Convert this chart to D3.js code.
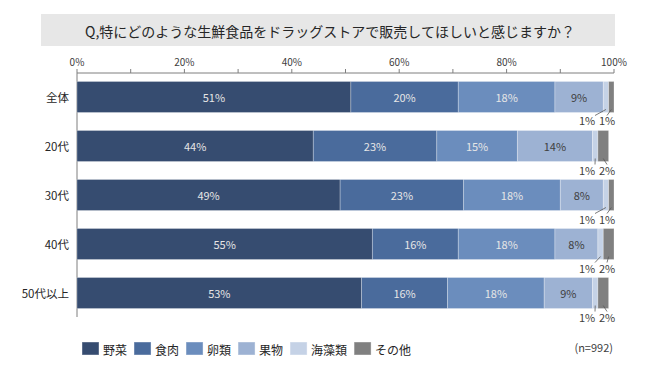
<!DOCTYPE html>
<html>
<head>
<meta charset="utf-8">
<script src="https://cdn.jsdelivr.net/npm/d3@7"></script>
<style>
  body { margin: 0; background: #fff; }
  text { font-family: "Noto Sans CJK JP", "Noto Sans", sans-serif; }
</style>
</head>
<body>
<div id="chart"></div>
<script>
const categories = ["全体", "20代", "30代", "40代", "50代以上"];
const seriesNames = ["野菜", "食肉", "卵類", "果物", "海藻類", "その他"];
const 野菜 = [51, 44, 49, 55, 53];
const 食肉 = [20, 23, 23, 16, 16];
const 卵類 = [18, 15, 18, 18, 18];
const 果物 = [9, 14, 8, 8, 9];
const 海藻類 = [1, 1, 1, 1, 1];
const その他 = [1, 2, 1, 2, 2];
const tickValues = [0, 20, 40, 60, 80, 100];
const titleText = "Q,特にどのような生鮮食品をドラッグストアで販売してほしいと感じますか？";
const noteText = "(n=992)";

const seriesValues = [野菜, 食肉, 卵類, 果物, 海藻類, その他];
const colors = ["#364c70", "#4a6b9c", "#6b8dbd", "#9db2d3", "#c5d2e6", "#808080"];
const labelColors = ["#e6e6e6", "#e6e6e6", "#e6e6e6", "#404040", "#404040", "#404040"];

const rows = categories.map((c, i) => {
  const r = { category: c };
  seriesNames.forEach((s, j) => r[s] = seriesValues[j][i]);
  return r;
});

const width = 650, height = 380;
const svg = d3.select("#chart").append("svg")
  .attr("width", width)
  .attr("height", height);

// title box
svg.append("rect")
  .attr("x", 41).attr("y", 14)
  .attr("width", 574).attr("height", 32)
  .attr("fill", "#e7e7e7");

svg.append("text")
  .attr("x", 330).attr("y", 31)
  .attr("text-anchor", "middle")
  .attr("dominant-baseline", "central")
  .style("font-size", "14px")
  .style("fill", "#262626")
  .text(titleText);

const x = d3.scaleLinear().domain([0, 100]).range([77, 614]);
const y = d3.scaleBand().domain(categories).range([73, 317])
  .paddingInner(0.367).paddingOuter(0.173);

// top axis
const axisY = 73;
svg.append("line")
  .attr("x1", x(0)).attr("x2", x(100))
  .attr("y1", axisY).attr("y2", axisY)
  .attr("stroke", "#7f7f7f");
svg.append("line")
  .attr("x1", x(0)).attr("x2", x(0))
  .attr("y1", axisY - 4).attr("y2", 317)
  .attr("stroke", "#7f7f7f");
svg.append("g").selectAll("line")
  .data(d3.range(10, 101, 10))
  .join("line")
  .attr("x1", d => x(d)).attr("x2", d => x(d))
  .attr("y1", axisY - 4).attr("y2", axisY)
  .attr("stroke", "#7f7f7f");
svg.append("g").selectAll("text")
  .data(tickValues)
  .join("text")
  .attr("x", d => x(d))
  .attr("y", 61)
  .attr("text-anchor", "middle")
  .attr("dominant-baseline", "central")
  .style("font-size", "10px")
  .style("fill", "#404040")
  .text(d => d + "%");

// category labels
svg.append("g").selectAll("text")
  .data(categories)
  .join("text")
  .attr("x", 69)
  .attr("y", d => y(d) + y.bandwidth() / 2)
  .attr("text-anchor", "end")
  .attr("dominant-baseline", "central")
  .style("font-size", "11.5px")
  .style("fill", "#262626")
  .text(d => d);

const stacked = d3.stack().keys(seriesNames)(rows);

// bars
svg.append("g").selectAll("g")
  .data(stacked)
  .join("g")
  .attr("fill", (d, i) => colors[i])
  .selectAll("rect")
  .data(d => d)
  .join("rect")
  .attr("x", d => x(d[0]))
  .attr("y", d => y(d.data.category))
  .attr("width", d => x(d[1]) - x(d[0]))
  .attr("height", y.bandwidth())
  .attr("stroke", "#ffffff")
  .attr("stroke-opacity", 0.35)
  .attr("stroke-width", 0.8);

// labels inside bars (large segments)
stacked.forEach((layer, i) => {
  if (i >= 4) return;
  svg.append("g").selectAll("text")
    .data(layer)
    .join("text")
    .attr("x", d => (x(d[0]) + x(d[1])) / 2)
    .attr("y", d => y(d.data.category) + y.bandwidth() / 2)
    .attr("text-anchor", "middle")
    .attr("dominant-baseline", "central")
    .style("font-size", "11px")
    .style("fill", labelColors[i])
    .text(d => (d[1] - d[0]) + "%");
});

// small segment labels below the bar with leader lines
const smallOffsets = [-27, -7];
[4, 5].forEach((si, k) => {
  const g = svg.append("g");
  stacked[si].forEach(d => {
    const cx = (x(d[0]) + x(d[1])) / 2;
    const bottom = y(d.data.category) + y.bandwidth();
    const lx = x(100) + smallOffsets[k];
    g.append("line")
      .attr("x1", cx).attr("y1", bottom - 3)
      .attr("x2", k === 0 ? lx + 8 : lx).attr("y2", bottom + 3)
      .attr("stroke", "#595959")
      .attr("stroke-width", 0.8);
    g.append("text")
      .attr("x", lx)
      .attr("y", bottom + 8)
      .attr("text-anchor", "middle")
      .attr("dominant-baseline", "central")
      .style("font-size", "11px")
      .style("fill", "#404040")
      .text((d[1] - d[0]) + "%");
  });
});

// legend
const legend = svg.append("g").attr("transform", "translate(82, 349)");
let lx = 0;
seriesNames.forEach((s, i) => {
  const item = legend.append("g").attr("transform", `translate(${lx},0)`);
  item.append("rect")
    .attr("x", 0).attr("y", -7)
    .attr("width", 17).attr("height", 13)
    .attr("fill", colors[i])
    .attr("stroke", "#ffffff")
    .attr("stroke-opacity", 0.4);
  const t = item.append("text")
    .attr("x", 21).attr("y", 0)
    .attr("dominant-baseline", "central")
    .style("font-size", "12px")
    .style("fill", "#262626")
    .text(s);
  lx += 21 + t.node().getComputedTextLength() + 7;
});

svg.append("text")
  .attr("x", 613).attr("y", 347)
  .attr("text-anchor", "end")
  .attr("dominant-baseline", "central")
  .style("font-size", "11px")
  .style("fill", "#404040")
  .text(noteText);
</script>
</body>
</html>
